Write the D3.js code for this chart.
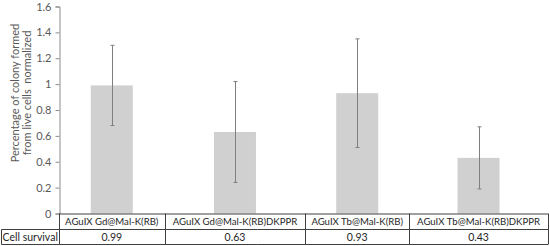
<!DOCTYPE html>
<html><head><meta charset="utf-8">
<script src="https://cdn.jsdelivr.net/npm/d3@7"></script>
<style>html,body{margin:0;padding:0;background:#fff;}svg{display:block;}</style>
</head><body>
<script>
const categories = ["AGuIX Gd@Mal-K(RB)", "AGuIX Gd@Mal-K(RB)DKPPR", "AGuIX Tb@Mal-K(RB)", "AGuIX Tb@Mal-K(RB)DKPPR"];
const values = [0.99, 0.63, 0.93, 0.43];
const errors = [0.31, 0.39, 0.42, 0.24];
const survivalLabel = "Cell survival";
const survival = ["0.99", "0.63", "0.93", "0.43"];
const yTicks = [0, 0.2, 0.4, 0.6, 0.8, 1, 1.2, 1.4, 1.6];
const yTitle = ["Percentage of colony formed", "from live cells  normalized"];

(function () {
const W = 550, H = 246;
const font = "Lato, 'Open Sans', sans-serif";
const catSize = "9.6px";
const svg = d3.select("body").append("svg").attr("width", W).attr("height", H);

const pLeft = 59, pRight = 548, pTop = 6.5, pBottom = 213.5, row1 = 229.5, row2 = 245;

const meas = svg.append("text").attr("font-family", font).attr("font-size", catSize);
const widths = categories.map(c => { meas.text(c); return meas.node().getComputedTextLength(); });
meas.remove();
const totalW = d3.sum(widths);
const edges = [pLeft];
widths.forEach(w => edges.push(edges[edges.length - 1] + w / totalW * (pRight - pLeft)));
const colScale = d3.scaleOrdinal().domain(categories).range(edges.slice(0, -1));
const colWidth = d3.scaleOrdinal().domain(categories).range(widths.map(w => w / totalW * (pRight - pLeft)));

const y = d3.scaleLinear().domain([0, 1.6]).range([pBottom, pTop]);
const barW = 42;
const cx = c => colScale(c) + colWidth(c) / 2;

svg.append("g").selectAll("rect").data(categories).join("rect")
  .attr("x", c => cx(c) - barW / 2)
  .attr("width", barW)
  .attr("y", (c, i) => y(values[i]))
  .attr("height", (c, i) => y(0) - y(values[i]))
  .attr("fill", "#d0d0d0");

const eg = svg.append("g").attr("stroke", "#7f7f7f").attr("stroke-width", 1);
categories.forEach((c, i) => {
  const x = Math.round(cx(c)) + 0.5;
  const hi = y(values[i] + errors[i]), lo = y(values[i] - errors[i]);
  eg.append("line").attr("x1", x).attr("x2", x).attr("y1", hi).attr("y2", lo);
  eg.append("line").attr("x1", x - 2).attr("x2", x + 2).attr("y1", hi).attr("y2", hi);
  eg.append("line").attr("x1", x - 2).attr("x2", x + 2).attr("y1", lo).attr("y2", lo);
});

const yAxis = d3.axisLeft(y).tickValues(yTicks).tickSize(4).tickPadding(4).tickFormat(d3.format("~g"));
const ag = svg.append("g").attr("transform", `translate(${pLeft + 0.5},0)`).call(yAxis);
ag.select(".domain").attr("stroke", "#8c8c8c");
ag.selectAll(".tick line").attr("stroke", "#8c8c8c");
ag.selectAll(".tick text").attr("fill", "#595959").attr("font-family", font).attr("font-size", "11px");

const tg = svg.append("g").attr("transform", "translate(15,93) rotate(-90)");
tg.selectAll("text").data(yTitle).join("text")
  .attr("x", 0).attr("y", (d, i) => i * 12)
  .attr("dy", "0.35em")
  .attr("text-anchor", "middle")
  .attr("font-family", font).attr("font-size", "11px").attr("fill", "#595959")
  .style("white-space", "pre")
  .text(d => d);

const tb = svg.append("g").attr("stroke", "#404040").attr("stroke-width", 1).attr("fill", "none");
tb.append("line").attr("x1", pLeft).attr("x2", pRight).attr("y1", pBottom + 0.5).attr("y2", pBottom + 0.5);
tb.append("line").attr("x1", 1.5).attr("x2", pRight).attr("y1", row1).attr("y2", row1);
tb.append("line").attr("x1", 1.5).attr("x2", pRight).attr("y1", row2 - 0.5).attr("y2", row2 - 0.5);
tb.append("line").attr("x1", 1.5).attr("x2", 1.5).attr("y1", row1).attr("y2", row2 - 0.5);
edges.forEach(e => {
  const x = Math.round(e) + 0.5;
  tb.append("line").attr("x1", x).attr("x2", x).attr("y1", pBottom).attr("y2", row2 - 0.5);
});

const txt = svg.append("g").attr("font-family", font).attr("fill", "#262626").attr("text-anchor", "middle");
txt.selectAll("text.cat").data(categories).join("text").attr("class", "cat")
  .attr("x", c => cx(c)).attr("y", (pBottom + row1) / 2 + 0.5).attr("dy", "0.35em")
  .attr("font-size", catSize).text(c => c);
txt.selectAll("text.sv").data(categories).join("text").attr("class", "sv")
  .attr("x", c => cx(c)).attr("y", (row1 + row2) / 2).attr("dy", "0.35em")
  .attr("font-size", "10.5px").text((c, i) => survival[i]);
txt.append("text").attr("x", (1.5 + pLeft) / 2).attr("y", (row1 + row2) / 2).attr("dy", "0.35em")
  .attr("font-size", "10.5px").text(survivalLabel);
})();
</script>
</body></html>
